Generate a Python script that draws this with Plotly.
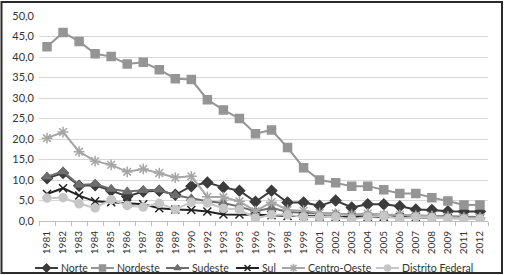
import plotly.graph_objects as go

years = ["1981", "1982", "1983", "1984", "1985", "1986", "1987", "1988", "1989", "1990",
         "1992", "1993", "1995", "1996", "1997", "1998", "1999", "2001", "2002", "2003",
         "2004", "2005", "2006", "2007", "2008", "2009", "2011", "2012"]

norte = [10.4, 11.7, 8.6, 8.7, 7.4, 6.0, 7.2, 7.4, 6.4, 8.5, 9.4, 8.2, 7.4, 4.7, 7.4, 4.5,
         4.5, 3.7, 5.0, 3.3, 4.1, 4.1, 3.6, 2.8, 2.7, 2.4, 2.3, 2.3]
nordeste = [42.5, 46.0, 43.8, 40.8, 40.1, 38.3, 38.7, 36.9, 34.7, 34.5, 29.6, 27.1, 25.0,
            21.3, 22.2, 17.9, 13.0, 10.0, 9.3, 8.5, 8.5, 7.6, 6.7, 6.7, 5.7, 4.9, 3.9, 3.9]
sudeste = [10.8, 12.1, 8.8, 9.0, 7.8, 7.2, 7.5, 7.6, 6.3, 5.5, 4.8, 4.4, 3.5, 2.3, 3.2,
           2.2, 2.0, 1.8, 1.8, 1.5, 1.6, 1.5, 1.4, 1.3, 1.3, 1.2, 1.0, 1.0]
sul = [6.6, 8.0, 6.2, 4.8, 4.6, 4.3, 4.1, 3.1, 2.8, 2.7, 2.3, 1.6, 1.6, 1.5, 1.4, 1.2,
       1.2, 1.1, 1.0, 1.0, 1.0, 1.0, 0.9, 0.9, 0.8, 0.8, 0.7, 0.7]
centro_oeste = [20.2, 21.7, 16.9, 14.6, 13.7, 12.0, 12.7, 11.7, 10.6, 10.9, 5.9, 5.8, 4.8,
                2.4, 4.6, 2.7, 2.5, 2.0, 1.8, 1.5, 1.8, 1.5, 1.5, 1.3, 1.2, 1.0, 0.8, 0.8]
distrito_federal = [5.6, 5.7, 4.2, 3.2, 5.2, 3.8, 3.4, 4.3, 2.8, 4.6, 4.4, 3.1, 2.8, 0.7,
                    1.5, 1.5, 1.0, 1.0, 1.0, 0.5, 1.0, 1.2, 0.6, 1.0, 0.8, 0.6, 0.5, 0.5]

y_ticks = [0, 5, 10, 15, 20, 25, 30, 35, 40, 45, 50]

series = [
    ("Norte", norte, "#3c3c3c", "diamond", 8),
    ("Nordeste", nordeste, "#959595", "square", 8),
    ("Sudeste", sudeste, "#6e6e6e", "triangle-up", 8),
    ("Sul", sul, "#222222", "x-thin-open", 8),
    ("Centro-Oeste", centro_oeste, "#a6a6a6", "asterisk-open", 9),
    ("Distrito Federal", distrito_federal, "#c6c6c6", "circle", 8),
]

W, H = 505, 275
# plot area in pixels (layout)
PX0, PX1, PY0, PY1 = 39, 488, 16, 221
# legend layout (pixel positions of each entry's sample line start)
LEG_X = [35, 91, 166, 236, 282, 376]
LEG_Y = 268
LEG_LINE = 23

FONT = "Lato, Open Sans, sans-serif"

fig = go.Figure()
for name, vals, col, sym, sz in series:
    fig.add_trace(go.Scatter(
        x=years, y=vals, name=name, mode="lines+markers", showlegend=False,
        line=dict(color=col, width=2),
        marker=dict(symbol=sym, size=sz, color=col, line=dict(color=col, width=1.5)),
        xaxis="x", yaxis="y",
    ))

annotations = []
for (name, vals, col, sym, sz), lx in zip(series, LEG_X):
    fig.add_trace(go.Scatter(
        x=[lx, lx + LEG_LINE], y=[LEG_Y, LEG_Y], mode="lines", showlegend=False,
        line=dict(color=col, width=2), xaxis="x2", yaxis="y2", hoverinfo="skip",
    ))
    fig.add_trace(go.Scatter(
        x=[lx + LEG_LINE / 2], y=[LEG_Y], mode="markers", showlegend=False,
        marker=dict(symbol=sym, size=sz - 2, color=col, line=dict(color=col, width=1.5)),
        xaxis="x2", yaxis="y2", hoverinfo="skip",
    ))
    annotations.append(dict(
        x=lx + LEG_LINE + 1, y=LEG_Y, xref="x2", yref="y2", text=name,
        showarrow=False, xanchor="left", yanchor="middle",
        font=dict(family=FONT, size=10.5, color="#333333"),
    ))

fig.update_layout(
    width=W, height=H,
    margin=dict(l=0, r=0, t=0, b=0),
    paper_bgcolor="white", plot_bgcolor="rgba(0,0,0,0)",
    separators=",.",
    font=dict(family=FONT, size=10, color="#333333"),
    showlegend=False,
    xaxis=dict(type="category", domain=[PX0 / W, PX1 / W], anchor="y",
               tickangle=-90, showgrid=False,
               showline=True, linecolor="#bfbfbf", linewidth=1,
               ticks="outside", tickson="boundaries", ticklen=4, tickcolor="#bfbfbf",
               ticklabelstandoff=5,
               tickfont=dict(family=FONT, size=10, color="#333333"),
               range=[-0.5, 27.5], automargin=False),
    yaxis=dict(domain=[1 - PY1 / H, 1 - PY0 / H], anchor="x",
               range=[0, 50], tickvals=y_ticks, tickformat=".1f",
               showgrid=True, gridcolor="#d6d6d6", gridwidth=1,
               showline=False, zeroline=False, ticks="", ticklabelstandoff=4,
               tickfont=dict(family=FONT, size=11, color="#333333"), automargin=False),
    xaxis2=dict(domain=[0, 1], range=[0, W], anchor="y2", visible=False,
                fixedrange=True),
    yaxis2=dict(domain=[0, 1], range=[H, 0], anchor="x2", visible=False,
                fixedrange=True),
    annotations=annotations,
    shapes=[dict(type="rect", xref="x2", yref="y2",
                 x0=1.5, x1=502, y0=2, y1=273,
                 line=dict(color="#2a2a2a", width=2), layer="below")],
)

fig.write_html("out.html")
